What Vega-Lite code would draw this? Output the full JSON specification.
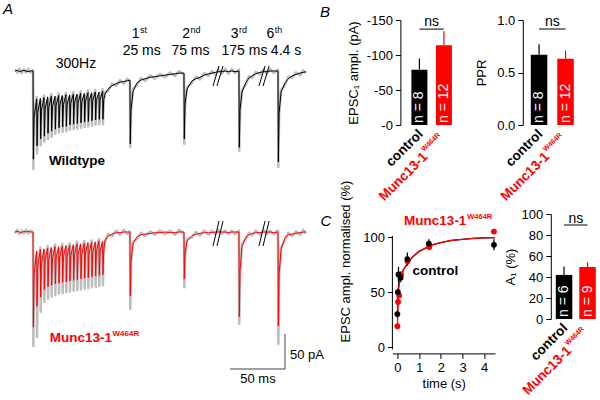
{
 "$schema": "https://vega.github.io/schema/vega-lite/v6.json",
 "padding": {"left": 0, "top": 2, "right": 0, "bottom": 0},
 "background": "white",
 "config": {
  "font": "Liberation Sans",
  "view": {"stroke": null},
  "axis": {"labelFontSize": 13, "titleFontSize": 13, "titleFontWeight": "normal", "labelColor": "#000", "titleColor": "#000", "domainColor": "#000", "tickColor": "#000", "tickSize": 5, "grid": false, "labelPadding": 3, "labelOverlap": false}
 },
 "datasets": {
  "trace": [
{"t":0,"wm":0,"wr":2,"mm":0,"mr":-2},
{"t":2,"wm":1,"wr":-2,"mm":1,"mr":3},
{"t":4,"wm":-1,"wr":3,"mm":0,"mr":-3},
{"t":6,"wm":0,"wr":-3,"mm":-1,"mr":2},
{"t":8,"wm":1,"wr":2,"mm":1,"mr":-2},
{"t":10,"wm":0,"wr":-2,"mm":0,"mr":3},
{"t":12,"wm":-1,"wr":3,"mm":1,"mr":-2},
{"t":14,"wm":0,"wr":-2,"mm":0,"mr":2},
{"t":16.4,"wm":0,"wr":1,"mm":0,"mr":-1},
{"t":16.7,"wm":-126,"wr":-140,"mm":-136,"mr":-163},
{"t":17.4,"wm":-66,"wr":-63,"mm":-60,"mr":-57},
{"t":19.73,"wm":-40,"wr":-37,"mm":-27,"mr":-30},
{"t":20.03,"wm":-107,"wr":-118,"mm":-106,"mr":-150},
{"t":20.73,"wm":-59,"wr":-62,"mm":-49,"mr":-52},
{"t":23.06,"wm":-39,"wr":-42,"mm":-25,"mr":-22},
{"t":23.36,"wm":-97,"wr":-106,"mm":-93,"mr":-114},
{"t":24.06,"wm":-56,"wr":-53,"mm":-45,"mr":-47},
{"t":26.39,"wm":-38,"wr":-35,"mm":-24,"mr":-27},
{"t":26.69,"wm":-93,"wr":-101,"mm":-82,"mr":-100},
{"t":27.39,"wm":-54,"wr":-57,"mm":-41,"mr":-38},
{"t":29.72,"wm":-37,"wr":-40,"mm":-23,"mr":-20},
{"t":30.02,"wm":-89,"wr":-97,"mm":-78,"mr":-95},
{"t":30.72,"wm":-52,"wr":-49,"mm":-39,"mr":-42},
{"t":33.05,"wm":-36,"wr":-33,"mm":-22,"mr":-25},
{"t":33.35,"wm":-86,"wr":-94,"mm":-76,"mr":-92},
{"t":34.05,"wm":-51,"wr":-54,"mm":-38,"mr":-35},
{"t":36.38,"wm":-36,"wr":-39,"mm":-21,"mr":-18},
{"t":36.68,"wm":-83,"wr":-90,"mm":-74,"mr":-90},
{"t":37.38,"wm":-49,"wr":-46,"mm":-37,"mr":-40},
{"t":39.71,"wm":-35,"wr":-32,"mm":-21,"mr":-24},
{"t":40.01,"wm":-81,"wr":-88,"mm":-73,"mr":-88},
{"t":40.71,"wm":-49,"wr":-52,"mm":-36,"mr":-33},
{"t":43.04,"wm":-35,"wr":-38,"mm":-20,"mr":-17},
{"t":43.34,"wm":-80,"wr":-87,"mm":-72,"mr":-87},
{"t":44.04,"wm":-48,"wr":-45,"mm":-35,"mr":-38},
{"t":46.37,"wm":-34,"wr":-31,"mm":-19,"mr":-22},
{"t":46.67,"wm":-79,"wr":-86,"mm":-71,"mr":-86},
{"t":47.37,"wm":-48,"wr":-51,"mm":-35,"mr":-32},
{"t":49.7,"wm":-34,"wr":-37,"mm":-19,"mr":-16},
{"t":50.0,"wm":-77,"wr":-84,"mm":-70,"mr":-85},
{"t":50.7,"wm":-46,"wr":-43,"mm":-34,"mr":-37},
{"t":53.03,"wm":-33,"wr":-30,"mm":-18,"mr":-21},
{"t":53.33,"wm":-76,"wr":-83,"mm":-69,"mr":-84},
{"t":54.03,"wm":-46,"wr":-49,"mm":-33,"mr":-30},
{"t":56.36,"wm":-33,"wr":-36,"mm":-17,"mr":-14},
{"t":56.66,"wm":-75,"wr":-82,"mm":-68,"mr":-83},
{"t":57.36,"wm":-45,"wr":-42,"mm":-32,"mr":-35},
{"t":59.69,"wm":-32,"wr":-29,"mm":-17,"mr":-20},
{"t":59.99,"wm":-74,"wr":-81,"mm":-67,"mr":-82},
{"t":60.69,"wm":-45,"wr":-48,"mm":-31,"mr":-28},
{"t":63.02,"wm":-32,"wr":-35,"mm":-16,"mr":-13},
{"t":63.32,"wm":-73,"wr":-80,"mm":-66,"mr":-81},
{"t":64.02,"wm":-44,"wr":-41,"mm":-30,"mr":-33},
{"t":66.35,"wm":-31,"wr":-28,"mm":-15,"mr":-18},
{"t":66.65,"wm":-72,"wr":-79,"mm":-65,"mr":-80},
{"t":67.35,"wm":-43,"wr":-46,"mm":-30,"mr":-27},
{"t":69.68,"wm":-31,"wr":-34,"mm":-15,"mr":-12},
{"t":69.98,"wm":-71,"wr":-78,"mm":-64,"mr":-79},
{"t":70.68,"wm":-42,"wr":-39,"mm":-29,"mr":-32},
{"t":73.01,"wm":-30,"wr":-27,"mm":-14,"mr":-17},
{"t":73.31,"wm":-70,"wr":-77,"mm":-63,"mr":-78},
{"t":74.01,"wm":-42,"wr":-45,"mm":-28,"mr":-25},
{"t":76.34,"wm":-30,"wr":-33,"mm":-13,"mr":-10},
{"t":76.64,"wm":-69,"wr":-76,"mm":-62,"mr":-77},
{"t":77.34,"wm":-41,"wr":-38,"mm":-28,"mr":-31},
{"t":79.67,"wm":-29,"wr":-26,"mm":-13,"mr":-16},
{"t":79.97,"wm":-69,"wr":-76,"mm":-61,"mr":-76},
{"t":80.67,"wm":-41,"wr":-44,"mm":-27,"mr":-24},
{"t":81.8,"wm":-33,"wr":-30,"mm":-12,"mr":-15},
{"t":84.5,"wm":-26,"wr":-29,"mm":-6,"mr":-3},
{"t":88.2,"wm":-21,"wr":-18,"mm":-3,"mr":-6},
{"t":92,"wm":-18,"wr":-21,"mm":-1,"mr":2},
{"t":95.5,"wm":-16,"wr":-13,"mm":-1,"mr":-4},
{"t":99,"wm":-15,"wr":-18,"mm":0,"mr":3},
{"t":102,"wm":-14,"wr":-11,"mm":0,"mr":-3},
{"t":104.5,"wm":-13,"wr":-15,"mm":0,"mr":1},
{"t":104.8,"wm":-104,"wr":-109,"mm":-91,"mr":-110},
{"t":105.5,"wm":-55,"wr":-58,"mm":-41,"mr":-44},
{"t":107.3,"wm":-29,"wr":-26,"mm":-17,"mr":-14},
{"t":110.9,"wm":-17,"wr":-20,"mm":-7,"mr":-10},
{"t":114.5,"wm":-13,"wr":-10,"mm":-4,"mr":-1},
{"t":118.2,"wm":-11,"wr":-14,"mm":-3,"mr":-6},
{"t":123,"wm":-9,"wr":-6,"mm":-2,"mr":1},
{"t":127,"wm":-8,"wr":-11,"mm":-1,"mr":-4},
{"t":131.8,"wm":-7,"wr":-4,"mm":-1,"mr":2},
{"t":136,"wm":-6,"wr":-9,"mm":0,"mr":-3},
{"t":141,"wm":-5,"wr":-2,"mm":-1,"mr":2},
{"t":145.5,"wm":-4,"wr":-7,"mm":-1,"mr":-4},
{"t":149,"wm":-3,"wr":0,"mm":0,"mr":3},
{"t":153.6,"wm":-3,"wr":-5,"mm":0,"mr":-2},
{"t":153.9,"wm":-97,"wr":-104,"mm":-67,"mr":-79},
{"t":154.6,"wm":-47,"wr":-50,"mm":-31,"mr":-34},
{"t":156.4,"wm":-26,"wr":-23,"mm":-13,"mr":-10},
{"t":160.9,"wm":-14,"wr":-17,"mm":-5,"mr":-8},
{"t":164.5,"wm":-11,"wr":-8,"mm":-3,"mr":0},
{"t":168.2,"wm":-9,"wr":-12,"mm":-2,"mr":-5},
{"t":172,"wm":-6,"wr":-3,"mm":-1,"mr":2},
{"t":176,"wm":-4,"wr":-7,"mm":-1,"mr":-4},
{"t":179.1,"wm":-3,"wr":0,"mm":-1,"mr":2},
{"t":182,"wm":-2,"wr":-5,"mm":0,"mr":-3},
{"t":185,"wm":-1,"wr":2,"mm":0,"mr":3},
{"t":188,"wm":-1,"wr":-4,"mm":0,"mr":-3},
{"t":191,"wm":0,"wr":3,"mm":0,"mr":2},
{"t":194,"wm":-1,"wr":-4,"mm":-1,"mr":-3},
{"t":197,"wm":0,"wr":3,"mm":0,"mr":2},
{"t":200,"wm":-1,"wr":-3,"mm":0,"mr":-3},
{"t":203.6,"wm":0,"wr":2,"mm":0,"mr":2},
{"t":203.9,"wm":-109,"wr":-114,"mm":-121,"mr":-131},
{"t":204.6,"wm":-55,"wr":-58,"mm":-55,"mr":-58},
{"t":206.4,"wm":-30,"wr":-27,"mm":-20,"mr":-17},
{"t":210,"wm":-16,"wr":-19,"mm":-7,"mr":-10},
{"t":212.7,"wm":-10,"wr":-7,"mm":-4,"mr":-1},
{"t":215.5,"wm":-7,"wr":-10,"mm":-2,"mr":-5},
{"t":219,"wm":-4,"wr":-1,"mm":-1,"mr":2},
{"t":222.7,"wm":-2,"wr":-5,"mm":-1,"mr":-4},
{"t":226,"wm":-1,"wr":2,"mm":0,"mr":3},
{"t":229,"wm":-1,"wr":-4,"mm":0,"mr":-3},
{"t":232,"wm":0,"wr":3,"mm":0,"mr":2},
{"t":235,"wm":0,"wr":-3,"mm":-1,"mr":-3},
{"t":239.1,"wm":0,"wr":2,"mm":0,"mr":2},
{"t":239.4,"wm":-130,"wr":-137,"mm":-134,"mr":-160},
{"t":240.1,"wm":-60,"wr":-63,"mm":-60,"mr":-63},
{"t":241.9,"wm":-30,"wr":-27,"mm":-25,"mr":-22},
{"t":245.5,"wm":-17,"wr":-20,"mm":-8,"mr":-11},
{"t":248.5,"wm":-11,"wr":-8,"mm":-4,"mr":-1},
{"t":251.8,"wm":-7,"wr":-10,"mm":-3,"mr":-6},
{"t":255.5,"wm":-5,"wr":-2,"mm":-2,"mr":1},
{"t":259.1,"wm":-3,"wr":-6,"mm":-1,"mr":-4},
{"t":262,"wm":-2,"wr":1,"mm":0,"mr":3},
{"t":264.5,"wm":-1,"wr":-3,"mm":0,"mr":-2}
  ],
  "breaksW": [
   {"t":180,"i":-21.4,"t2":185.5,"i2":7.1},
   {"t":183.6,"i":-21.4,"t2":189.1,"i2":7.1},
   {"t":221.8,"i":-21.4,"t2":227.3,"i2":7.1},
   {"t":225.5,"i":-21.4,"t2":231,"i2":7.1}
  ],
  "breaksM": [
   {"t":180,"i":-20,"t2":185.5,"i2":15.7},
   {"t":183.6,"i":-20,"t2":189.1,"i2":15.7},
   {"t":221.8,"i":-20,"t2":227.3,"i2":15.7},
   {"t":225.5,"i":-20,"t2":231,"i2":15.7}
  ],
  "fit": [
   {"g":"control","t":0,"v":28},{"g":"control","t":0.03,"v":48},{"g":"control","t":0.06,"v":58},{"g":"control","t":0.1,"v":62},{"g":"control","t":0.15,"v":65},{"g":"control","t":0.2,"v":67},{"g":"control","t":0.3,"v":71},{"g":"control","t":0.4,"v":74},{"g":"control","t":0.5,"v":77},{"g":"control","t":0.7,"v":82},{"g":"control","t":1.0,"v":87},{"g":"control","t":1.3,"v":90},{"g":"control","t":1.6,"v":93},{"g":"control","t":2.0,"v":95},{"g":"control","t":2.5,"v":97},{"g":"control","t":3.0,"v":98},{"g":"control","t":3.5,"v":98.8},{"g":"control","t":4.0,"v":99.3},{"g":"control","t":4.5,"v":99.6},
   {"g":"Munc13-1","t":0,"v":17},{"g":"Munc13-1","t":0.03,"v":40},{"g":"Munc13-1","t":0.06,"v":52},{"g":"Munc13-1","t":0.1,"v":60},{"g":"Munc13-1","t":0.15,"v":64},{"g":"Munc13-1","t":0.2,"v":67},{"g":"Munc13-1","t":0.3,"v":71},{"g":"Munc13-1","t":0.4,"v":74},{"g":"Munc13-1","t":0.5,"v":77},{"g":"Munc13-1","t":0.7,"v":82},{"g":"Munc13-1","t":1.0,"v":87},{"g":"Munc13-1","t":1.3,"v":90},{"g":"Munc13-1","t":1.6,"v":93},{"g":"Munc13-1","t":2.0,"v":95},{"g":"Munc13-1","t":2.5,"v":97},{"g":"Munc13-1","t":3.0,"v":98},{"g":"Munc13-1","t":3.5,"v":98.8},{"g":"Munc13-1","t":4.0,"v":99.3},{"g":"Munc13-1","t":4.5,"v":99.6}
  ],
  "pts": [
   {"g":"Munc13-1","t":0.0,"v":19,"lo":17.5,"hi":20.5},
   {"g":"Munc13-1","t":0.03,"v":41,"lo":39,"hi":43},
   {"g":"Munc13-1","t":0.08,"v":47,"lo":44.5,"hi":49.5},
   {"g":"Munc13-1","t":0.17,"v":66,"lo":63,"hi":69},
   {"g":"Munc13-1","t":0.47,"v":78,"lo":75,"hi":81},
   {"g":"Munc13-1","t":1.47,"v":91,"lo":88,"hi":94},
   {"g":"Munc13-1","t":4.45,"v":105,"lo":103,"hi":107},
   {"g":"control","t":0.0,"v":30,"lo":27,"hi":33},
   {"g":"control","t":0.02,"v":50,"lo":47,"hi":53},
   {"g":"control","t":0.05,"v":66,"lo":59,"hi":73},
   {"g":"control","t":0.15,"v":63,"lo":59,"hi":67},
   {"g":"control","t":0.46,"v":80,"lo":74,"hi":86},
   {"g":"control","t":1.45,"v":94,"lo":90,"hi":98},
   {"g":"control","t":4.45,"v":93,"lo":88,"hi":98}
  ]
 },
 "columns": 3,
 "align": "each",
 "bounds": "flush",
 "spacing": {"row": 0, "column": 27.4},
 "concat": [
  {
   "width": 364.6, "height": 194,
   "encoding": {"x": {"field": "t", "type": "quantitative", "scale": {"domain": [-13.636, 317.82], "nice": false, "zero": false}, "axis": null}},
   "layer": [
    {"data": {"name": "trace"}, "mark": {"type": "line", "stroke": "#bdbdbd", "strokeWidth": 2.5, "strokeJoin": "round"},
     "encoding": {"y": {"field": "wr", "type": "quantitative", "scale": {"domain": [-204.29, 72.857], "nice": false, "zero": false}, "axis": null}}},
    {"data": {"name": "trace"}, "mark": {"type": "line", "stroke": "#000000", "strokeWidth": 1},
     "encoding": {"y": {"field": "wm", "type": "quantitative", "scale": {"domain": [-204.29, 72.857], "nice": false, "zero": false}, "axis": null}}},
    {"data": {"name": "breaksW"}, "mark": {"type": "rule", "stroke": "#000000", "strokeWidth": 1},
     "encoding": {"y": {"field": "i", "type": "quantitative", "scale": {"domain": [-204.29, 72.857], "nice": false, "zero": false}, "axis": null}, "x2": {"field": "t2"}, "y2": {"field": "i2"}}},
    {"data": {"values": [{"t": 55.45, "i": 10, "label": "300Hz"}, {"t": 115.2, "i": 28.6, "label": "25 ms"}, {"t": 159.5, "i": 28.6, "label": "75 ms"}, {"t": 208.6, "i": 28.6, "label": "175 ms"}, {"t": 246.4, "i": 28.6, "label": "4.4 s"}]},
     "mark": {"type": "text", "fontSize": 14, "align": "center", "baseline": "middle", "color": "#000"},
     "encoding": {"y": {"field": "i", "type": "quantitative", "scale": {"domain": [-204.29, 72.857], "nice": false, "zero": false}, "axis": null}, "text": {"field": "label", "type": "nominal"}}},
    {"data": {"values": [{"t": 113.2, "i": 52.9, "label": "1"}, {"t": 159.1, "i": 52.9, "label": "2"}, {"t": 203.2, "i": 52.9, "label": "3"}, {"t": 235.7, "i": 52.9, "label": "6"}]},
     "mark": {"type": "text", "fontSize": 14, "align": "right", "baseline": "middle", "color": "#000"},
     "encoding": {"y": {"field": "i", "type": "quantitative", "scale": {"domain": [-204.29, 72.857], "nice": false, "zero": false}, "axis": null}, "text": {"field": "label", "type": "nominal"}}},
    {"data": {"values": [{"t": 113.7, "i": 58.6, "label": "st"}, {"t": 159.6, "i": 58.6, "label": "nd"}, {"t": 203.7, "i": 58.6, "label": "rd"}, {"t": 236.2, "i": 58.6, "label": "th"}]},
     "mark": {"type": "text", "fontSize": 9, "align": "left", "baseline": "middle", "color": "#000"},
     "encoding": {"y": {"field": "i", "type": "quantitative", "scale": {"domain": [-204.29, 72.857], "nice": false, "zero": false}, "axis": null}, "text": {"field": "label", "type": "nominal"}}},
    {"data": {"values": [{"t": 56.4, "i": -128.6, "label": "Wildtype"}]},
     "mark": {"type": "text", "fontSize": 13.5, "fontWeight": "bold", "align": "center", "baseline": "middle", "color": "#000"},
     "encoding": {"y": {"field": "i", "type": "quantitative", "scale": {"domain": [-204.29, 72.857], "nice": false, "zero": false}, "axis": null}, "text": {"field": "label", "type": "nominal"}}},
    {"data": {"values": [{"t": -6.36, "i": 88.57, "label": "A"}, {"t": 281.8, "i": 85, "label": "B"}]},
     "mark": {"type": "text", "fontSize": 15, "fontStyle": "italic", "align": "center", "baseline": "middle", "color": "#000"},
     "encoding": {"y": {"field": "i", "type": "quantitative", "scale": {"domain": [-204.29, 72.857], "nice": false, "zero": false}, "axis": null}, "text": {"field": "label", "type": "nominal"}}}
   ]
  },
  {
   "width": 59.5, "height": 105,
   "data": {"values": [{"g": "control", "v": -79, "e": -95, "n": "n = 8"}, {"g": "Munc13-1", "v": -114, "e": -134, "n": "n = 12"}]},
   "encoding": {"x": {"field": "g", "type": "nominal", "sort": null, "scale": {"domain": ["control", "Munc13-1"], "paddingInner": 0.347, "paddingOuter": 0.388, "align": 1}, "axis": null}},
   "layer": [
    {"mark": {"type": "bar"},
     "encoding": {"y": {"field": "v", "type": "quantitative", "scale": {"domain": [0, -150], "nice": false, "zero": false}, "axis": {"values": [0, -50, -100, -150], "tickCount": 20, "labelExpr": "datum.value == 0 ? '-0' : '-' + abs(datum.value)", "title": "EPSC₁ ampl. (pA)", "offset": -8, "titlePadding": 6, "labelOverlap": false}},
      "color": {"field": "g", "type": "nominal", "scale": {"domain": ["control", "Munc13-1"], "range": ["#000000", "#ff0000"]}, "legend": null}}},
    {"mark": {"type": "rule", "strokeWidth": 1.2},
     "encoding": {"y": {"field": "v", "type": "quantitative"}, "y2": {"field": "e"}, "color": {"field": "g", "type": "nominal", "scale": {"domain": ["control", "Munc13-1"], "range": ["#000000", "#ff0000"]}, "legend": null}}},
    {"mark": {"type": "text", "angle": -90, "align": "left", "baseline": "middle", "dx": 2, "fontSize": 14, "color": "#ffffff"},
     "encoding": {"y": {"datum": 0}, "text": {"field": "n", "type": "nominal"}}},
    {"data": {"values": [{"g": "control"}]},
     "mark": {"type": "text", "angle": -45, "align": "right", "baseline": "middle", "dx": -4, "dy": 6, "fontSize": 13.5, "fontWeight": "bold", "color": "#000000"},
     "encoding": {"y": {"datum": 0}, "text": {"field": "g", "type": "nominal"}}},
    {"data": {"values": [{"g": "Munc13-1"}]},
     "mark": {"type": "text", "angle": -45, "align": "right", "baseline": "middle", "dx": -34, "dy": 8, "fontSize": 13.5, "fontWeight": "bold", "color": "#ff0000"},
     "encoding": {"y": {"datum": 0}, "text": {"field": "g", "type": "nominal"}}},
    {"data": {"values": [{"g": "Munc13-1", "s": "W464R"}]},
     "mark": {"type": "text", "angle": -45, "align": "left", "baseline": "middle", "dx": -33, "dy": 3, "fontSize": 7, "fontWeight": "bold", "color": "#ff0000"},
     "encoding": {"y": {"datum": 0}, "text": {"field": "s", "type": "nominal"}}},
    {"data": {"values": [{"g": "control", "g2": "Munc13-1", "y": -137}]},
     "mark": {"type": "rule", "color": "#000000", "strokeWidth": 1},
     "encoding": {"x2": {"field": "g2", "bandPosition": 0.5}, "y": {"field": "y", "type": "quantitative"}}},
    {"data": {"values": [{"g": "control", "y": -147, "s": "ns"}]},
     "mark": {"type": "text", "fontSize": 14, "dx": 12.25, "align": "center", "baseline": "middle", "color": "#000000"},
     "encoding": {"y": {"field": "y", "type": "quantitative"}, "text": {"field": "s", "type": "nominal"}}}
   ]
  },
  {
   "width": 51, "height": 105,
   "data": {"values": [{"g": "control", "v": 0.67, "e": 0.77, "n": "n = 8"}, {"g": "Munc13-1", "v": 0.63, "e": 0.71, "n": "n = 12"}]},
   "encoding": {"x": {"field": "g", "type": "nominal", "sort": null, "scale": {"domain": ["control", "Munc13-1"], "paddingInner": 0.377, "paddingOuter": 0.151, "align": 1}, "axis": null}},
   "layer": [
    {"mark": {"type": "bar"},
     "encoding": {"y": {"field": "v", "type": "quantitative", "scale": {"domain": [0, 1], "nice": false, "zero": false}, "axis": {"values": [0, 0.5, 1], "tickCount": 20, "format": ".1f", "title": "PPR", "titlePadding": 8, "labelOverlap": false}},
      "color": {"field": "g", "type": "nominal", "scale": {"domain": ["control", "Munc13-1"], "range": ["#000000", "#ff0000"]}, "legend": null}}},
    {"mark": {"type": "rule", "strokeWidth": 1.2},
     "encoding": {"y": {"field": "v", "type": "quantitative"}, "y2": {"field": "e"}, "color": {"field": "g", "type": "nominal", "scale": {"domain": ["control", "Munc13-1"], "range": ["#000000", "#ff0000"]}, "legend": null}}},
    {"mark": {"type": "text", "angle": -90, "align": "left", "baseline": "middle", "dx": 2, "fontSize": 14, "color": "#ffffff"},
     "encoding": {"y": {"datum": 0}, "text": {"field": "n", "type": "nominal"}}},
    {"data": {"values": [{"g": "control"}]},
     "mark": {"type": "text", "angle": -45, "align": "right", "baseline": "middle", "dx": -4, "dy": 6, "fontSize": 13.5, "fontWeight": "bold", "color": "#000000"},
     "encoding": {"y": {"datum": 0}, "text": {"field": "g", "type": "nominal"}}},
    {"data": {"values": [{"g": "Munc13-1"}]},
     "mark": {"type": "text", "angle": -45, "align": "right", "baseline": "middle", "dx": -34, "dy": 8, "fontSize": 13.5, "fontWeight": "bold", "color": "#ff0000"},
     "encoding": {"y": {"datum": 0}, "text": {"field": "g", "type": "nominal"}}},
    {"data": {"values": [{"g": "Munc13-1", "s": "W464R"}]},
     "mark": {"type": "text", "angle": -45, "align": "left", "baseline": "middle", "dx": -33, "dy": 3, "fontSize": 7, "fontWeight": "bold", "color": "#ff0000"},
     "encoding": {"y": {"datum": 0}, "text": {"field": "s", "type": "nominal"}}},
    {"data": {"values": [{"g": "control", "g2": "Munc13-1", "y": 0.914}]},
     "mark": {"type": "rule", "color": "#000000", "strokeWidth": 1},
     "encoding": {"x2": {"field": "g2", "bandPosition": 0.5}, "y": {"field": "y", "type": "quantitative"}}},
    {"data": {"values": [{"g": "control", "y": 0.98, "s": "ns"}]},
     "mark": {"type": "text", "fontSize": 14, "dx": 13.25, "align": "center", "baseline": "middle", "color": "#000000"},
     "encoding": {"y": {"field": "y", "type": "quantitative"}, "text": {"field": "s", "type": "nominal"}}}
   ]
  },
  {
   "width": 364.6, "height": 185,
   "encoding": {"x": {"field": "t", "type": "quantitative", "scale": {"domain": [-13.636, 317.82], "nice": false, "zero": false}, "axis": null}},
   "layer": [
    {"data": {"name": "trace"}, "mark": {"type": "line", "stroke": "#bdbdbd", "strokeWidth": 2.5, "strokeJoin": "round"},
     "encoding": {"y": {"field": "mr", "type": "quantitative", "scale": {"domain": [-238.57, 25.714], "nice": false, "zero": false}, "axis": null}}},
    {"data": {"name": "trace"}, "mark": {"type": "line", "stroke": "#ff0000", "strokeWidth": 1},
     "encoding": {"y": {"field": "mm", "type": "quantitative", "scale": {"domain": [-238.57, 25.714], "nice": false, "zero": false}, "axis": null}}},
    {"data": {"name": "breaksM"}, "mark": {"type": "rule", "stroke": "#000000", "strokeWidth": 1},
     "encoding": {"y": {"field": "i", "type": "quantitative", "scale": {"domain": [-238.57, 25.714], "nice": false, "zero": false}, "axis": null}, "x2": {"field": "t2"}, "y2": {"field": "i2"}}},
    {"data": {"values": [{"t": 245.45, "i": -145.7, "t2": 245.45, "i2": -195.7}, {"t": 195.45, "i": -195.7, "t2": 245.45, "i2": -195.7}]},
     "mark": {"type": "rule", "stroke": "#444444", "strokeWidth": 1},
     "encoding": {"y": {"field": "i", "type": "quantitative", "scale": {"domain": [-238.57, 25.714], "nice": false, "zero": false}, "axis": null}, "x2": {"field": "t2"}, "y2": {"field": "i2"}}},
    {"data": {"values": [{"t": 250, "i": -175.7, "label": "50 pA"}]},
     "mark": {"type": "text", "fontSize": 13, "align": "left", "baseline": "middle", "color": "#000"},
     "encoding": {"y": {"field": "i", "type": "quantitative", "scale": {"domain": [-238.57, 25.714], "nice": false, "zero": false}, "axis": null}, "text": {"field": "label", "type": "nominal"}}},
    {"data": {"values": [{"t": 220.9, "i": -210, "label": "50 ms"}]},
     "mark": {"type": "text", "fontSize": 13, "align": "center", "baseline": "middle", "color": "#000"},
     "encoding": {"y": {"field": "i", "type": "quantitative", "scale": {"domain": [-238.57, 25.714], "nice": false, "zero": false}, "axis": null}, "text": {"field": "label", "type": "nominal"}}},
    {"data": {"values": [{"t": 88.2, "i": -151.4, "label": "Munc13-1"}]},
     "mark": {"type": "text", "fontSize": 13.5, "fontWeight": "bold", "align": "right", "baseline": "middle", "color": "#ff0000"},
     "encoding": {"y": {"field": "i", "type": "quantitative", "scale": {"domain": [-238.57, 25.714], "nice": false, "zero": false}, "axis": null}, "text": {"field": "label", "type": "nominal"}}},
    {"data": {"values": [{"t": 88.7, "i": -145.7, "label": "W464R"}]},
     "mark": {"type": "text", "fontSize": 8, "fontWeight": "bold", "align": "left", "baseline": "middle", "color": "#ff0000"},
     "encoding": {"y": {"field": "i", "type": "quantitative", "scale": {"domain": [-238.57, 25.714], "nice": false, "zero": false}, "axis": null}, "text": {"field": "label", "type": "nominal"}}},
    {"data": {"values": [{"t": 282.7, "i": 15.7, "label": "C"}]},
     "mark": {"type": "text", "fontSize": 15, "fontStyle": "italic", "align": "center", "baseline": "middle", "color": "#000"},
     "encoding": {"y": {"field": "i", "type": "quantitative", "scale": {"domain": [-238.57, 25.714], "nice": false, "zero": false}, "axis": null}, "text": {"field": "label", "type": "nominal"}}}
   ]
  },
  {
   "width": 102.64, "height": 136.4,
   "encoding": {"x": {"field": "t", "type": "quantitative", "scale": {"domain": [-0.23, 4.5], "nice": false, "zero": false}, "axis": {"values": [0, 1, 2, 3, 4], "tickCount": 20, "format": "d", "title": "time (s)", "offset": 3, "labelFlush": false, "labelOverlap": false, "titlePadding": 3}}},
   "layer": [
    {"data": {"values": [{"t": -0.23, "y1": -2, "y2": 101}]},
     "mark": {"type": "rule", "color": "#000000", "strokeWidth": 1},
     "encoding": {"y": {"field": "y1", "type": "quantitative", "scale": {"domain": [-3, 121], "nice": false, "zero": false}, "axis": {"values": [0, 50, 100], "tickCount": 20, "format": "d", "domain": false, "labelOverlap": false, "title": "EPSC ampl. normalised (%)", "titlePadding": 10, "titleY": 47}}, "y2": {"field": "y2"}}},
    {"data": {"name": "fit"}, "mark": {"type": "line", "strokeWidth": 1.3},
     "encoding": {"y": {"field": "v", "type": "quantitative"}, "color": {"field": "g", "type": "nominal", "scale": {"domain": ["control", "Munc13-1"], "range": ["#000000", "#ff0000"]}, "legend": null}}},
    {"data": {"name": "pts"}, "mark": {"type": "rule", "strokeWidth": 1.3},
     "encoding": {"y": {"field": "lo", "type": "quantitative"}, "y2": {"field": "hi"}, "color": {"field": "g", "type": "nominal", "scale": {"domain": ["control", "Munc13-1"], "range": ["#000000", "#ff0000"]}, "legend": null}}},
    {"data": {"name": "pts"}, "mark": {"type": "circle", "size": 34, "opacity": 1},
     "encoding": {"y": {"field": "v", "type": "quantitative"}, "color": {"field": "g", "type": "nominal", "scale": {"domain": ["control", "Munc13-1"], "range": ["#000000", "#ff0000"]}, "legend": null}}},
    {"data": {"values": [{"t": 3.18, "v": 114.5, "label": "Munc13-1"}]},
     "mark": {"type": "text", "fontSize": 13.5, "fontWeight": "bold", "align": "right", "baseline": "middle", "color": "#ff0000"},
     "encoding": {"y": {"field": "v", "type": "quantitative"}, "text": {"field": "label", "type": "nominal"}}},
    {"data": {"values": [{"t": 3.22, "v": 118, "label": "W464R"}]},
     "mark": {"type": "text", "fontSize": 7.5, "fontWeight": "bold", "align": "left", "baseline": "middle", "color": "#ff0000"},
     "encoding": {"y": {"field": "v", "type": "quantitative"}, "text": {"field": "label", "type": "nominal"}}},
    {"data": {"values": [{"t": 1.75, "v": 69, "label": "control"}]},
     "mark": {"type": "text", "fontSize": 13.5, "fontWeight": "bold", "align": "center", "baseline": "middle", "color": "#000000"},
     "encoding": {"y": {"field": "v", "type": "quantitative"}, "text": {"field": "label", "type": "nominal"}}}
   ]
  },
  {
   "width": 73, "height": 105,
   "data": {"values": [{"g": "control", "v": 42, "e": 50, "n": "n = 6"}, {"g": "Munc13-1", "v": 49.5, "e": 54, "n": "n = 9"}]},
   "encoding": {"x": {"field": "g", "type": "nominal", "sort": null, "scale": {"domain": ["control", "Munc13-1"], "paddingInner": 0.298, "paddingOuter": 0.702, "align": 1}, "axis": null}},
   "layer": [
    {"mark": {"type": "bar"},
     "encoding": {"y": {"field": "v", "type": "quantitative", "scale": {"domain": [0, 100], "nice": false, "zero": false}, "axis": {"values": [0, 20, 40, 60, 80, 100], "tickCount": 20, "format": "d", "title": "A₁ (%)", "offset": -28, "titlePadding": 3.5, "labelOverlap": false}},
      "color": {"field": "g", "type": "nominal", "scale": {"domain": ["control", "Munc13-1"], "range": ["#000000", "#ff0000"]}, "legend": null}}},
    {"mark": {"type": "rule", "strokeWidth": 1.2},
     "encoding": {"y": {"field": "v", "type": "quantitative"}, "y2": {"field": "e"}, "color": {"field": "g", "type": "nominal", "scale": {"domain": ["control", "Munc13-1"], "range": ["#000000", "#ff0000"]}, "legend": null}}},
    {"mark": {"type": "text", "angle": -90, "align": "left", "baseline": "middle", "dx": 2, "fontSize": 14, "color": "#ffffff"},
     "encoding": {"y": {"datum": 0}, "text": {"field": "n", "type": "nominal"}}},
    {"data": {"values": [{"g": "control"}]},
     "mark": {"type": "text", "angle": -45, "align": "right", "baseline": "middle", "dx": -4, "dy": 6, "fontSize": 13.5, "fontWeight": "bold", "color": "#000000"},
     "encoding": {"y": {"datum": 0}, "text": {"field": "g", "type": "nominal"}}},
    {"data": {"values": [{"g": "Munc13-1"}]},
     "mark": {"type": "text", "angle": -45, "align": "right", "baseline": "middle", "dx": -34, "dy": 8, "fontSize": 13.5, "fontWeight": "bold", "color": "#ff0000"},
     "encoding": {"y": {"datum": 0}, "text": {"field": "g", "type": "nominal"}}},
    {"data": {"values": [{"g": "Munc13-1", "s": "W464R"}]},
     "mark": {"type": "text", "angle": -45, "align": "left", "baseline": "middle", "dx": -33, "dy": 3, "fontSize": 7, "fontWeight": "bold", "color": "#ff0000"},
     "encoding": {"y": {"datum": 0}, "text": {"field": "s", "type": "nominal"}}},
    {"data": {"values": [{"g": "control", "g2": "Munc13-1", "y": 89.5}]},
     "mark": {"type": "rule", "color": "#000000", "strokeWidth": 1},
     "encoding": {"x2": {"field": "g2", "bandPosition": 0.5}, "y": {"field": "y", "type": "quantitative"}}},
    {"data": {"values": [{"g": "control", "y": 95, "s": "ns"}]},
     "mark": {"type": "text", "fontSize": 14, "dx": 11.75, "align": "center", "baseline": "middle", "color": "#000000"},
     "encoding": {"y": {"field": "y", "type": "quantitative"}, "text": {"field": "s", "type": "nominal"}}}
   ]
  }
 ]
}
